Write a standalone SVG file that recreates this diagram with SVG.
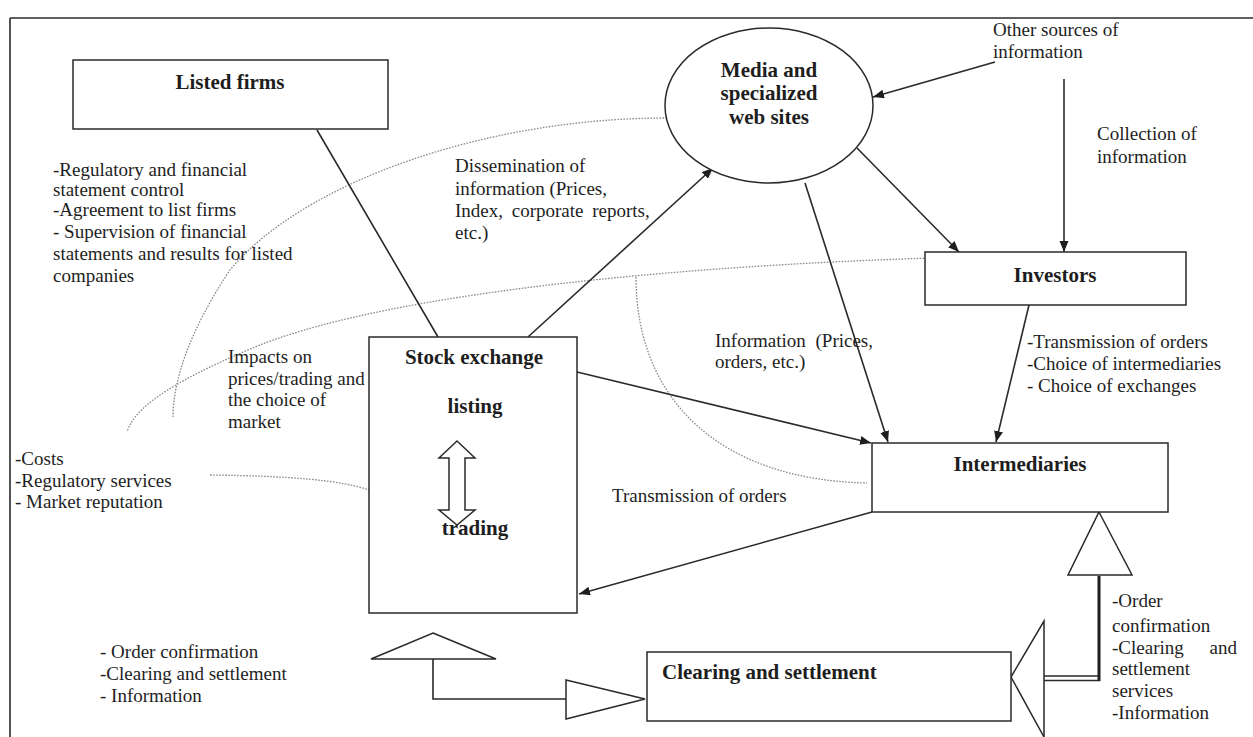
<svg xmlns="http://www.w3.org/2000/svg" width="1253" height="737" viewBox="0 0 1253 737">
<style>
text{font-family:"Liberation Serif","Times New Roman",serif;fill:#1e1e1e}
.t{font-size:19px}
.b{font-size:21px;font-weight:bold}
.box{fill:#fff;stroke:#2a2a2a;stroke-width:1.5}
.ln{fill:none;stroke:#2a2a2a;stroke-width:1.6}
.dot{fill:none;stroke:#8a8a8a;stroke-width:1.3;stroke-dasharray:1.6 1.4}
.hol{fill:#fff;stroke:#2a2a2a;stroke-width:1.5;stroke-linejoin:miter}
</style>
<defs>
<marker id="ah" markerUnits="userSpaceOnUse" markerWidth="12" markerHeight="10" refX="11" refY="4.5" orient="auto">
<path d="M0,0 L11,4.5 L0,9 z" fill="#1e1e1e"/>
</marker>
</defs>

<g id="frame">
<line x1="10" y1="18" x2="1253" y2="18" class="ln"/>
<line x1="10" y1="18" x2="10" y2="737" class="ln"/>
</g>

<g id="dotted-curves">
<path class="dot" d="M667,118 C480,118 300,185 230,270 C190,330 173,380 173,417"/>
<path class="dot" d="M933,258 C700,265 400,290 260,345 C180,378 135,405 127,432"/>
<path class="dot" d="M636,277 C636,400 720,480 867,483"/>
<path class="dot" d="M210,475 C290,476 340,480 369,490"/>
</g>

<g id="connectors">
<line class="ln" x1="317" y1="130" x2="438" y2="337"/>
<line class="ln" x1="528" y1="337" x2="713" y2="168" marker-end="url(#ah)"/>
<line class="ln" x1="995" y1="62" x2="873" y2="97" marker-end="url(#ah)"/>
<line class="ln" x1="857" y1="148" x2="959" y2="252" marker-end="url(#ah)"/>
<line class="ln" x1="1064" y1="79" x2="1064" y2="252" marker-end="url(#ah)"/>
<line class="ln" x1="805" y1="183" x2="888" y2="442" marker-end="url(#ah)"/>
<line class="ln" x1="1029" y1="305" x2="996" y2="442" marker-end="url(#ah)"/>
<line class="ln" x1="577" y1="372" x2="871" y2="443" marker-end="url(#ah)"/>
<line class="ln" x1="872" y1="512" x2="579" y2="594" marker-end="url(#ah)"/>
<polyline class="ln" points="433,659 433,699 566,699"/>
<polygon class="hol" points="433,633 496,659 371,659"/>
<polygon class="hol" points="566,680 645,699 566,719"/>
<line class="ln" x1="1044" y1="676" x2="1099" y2="676"/>
<line class="ln" x1="1044" y1="680.5" x2="1100" y2="680.5"/>
<line x1="1099" y1="576" x2="1099" y2="681" stroke="#1e1e1e" stroke-width="3"/>
<polygon class="hol" points="1011,677 1044,621 1044,737"/>
<polygon class="hol" points="1099,512 1132,575 1068,575"/>
</g>

<g id="listed-firms">
<rect class="box" x="73" y="60" width="315" height="69"/>
<text class="b" x="230" y="89" text-anchor="middle">Listed firms</text>
</g>

<g id="media">
<ellipse class="box" cx="769" cy="105.5" rx="104" ry="77.5"/>
<text class="b" x="769" y="77" text-anchor="middle">Media and</text>
<text class="b" x="769" y="100" text-anchor="middle">specialized</text>
<text class="b" x="769" y="124" text-anchor="middle">web sites</text>
</g>

<g id="investors">
<rect class="box" x="925" y="252" width="261" height="53"/>
<text class="b" x="1055" y="282" text-anchor="middle">Investors</text>
</g>

<g id="intermediaries">
<rect class="box" x="872" y="443" width="296" height="69"/>
<text class="b" x="1020" y="471" text-anchor="middle">Intermediaries</text>
</g>

<g id="stock-exchange">
<rect class="box" x="369" y="337" width="208" height="276"/>
<text class="b" x="474" y="364" text-anchor="middle">Stock exchange</text>
<text class="b" x="475" y="413" text-anchor="middle">listing</text>
<polygon class="hol" points="457,441 475,458 465,458 465,510 475,510 457,525 439,510 449,510 449,458 439,458"/>
<text class="b" x="475" y="535" text-anchor="middle">trading</text>
</g>

<g id="clearing">
<rect class="box" x="647" y="652" width="364" height="69"/>
<text class="b" x="662" y="679">Clearing and settlement</text>
</g>

<g id="labels">
<text class="t" x="53" y="176">-Regulatory and financial</text>
<text class="t" x="53" y="196">statement control</text>
<text class="t" x="53" y="216">-Agreement to list firms</text>
<text class="t" x="53" y="238">- Supervision of financial</text>
<text class="t" x="53" y="260">statements and results for  listed</text>
<text class="t" x="53" y="282">companies</text>

<text class="t" x="455" y="172">Dissemination of</text>
<text class="t" x="455" y="195">information (Prices,</text>
<text class="t" x="455" y="217" word-spacing="4">Index, corporate reports,</text>
<text class="t" x="455" y="239">etc.)</text>

<text class="t" x="993" y="36">Other sources of</text>
<text class="t" x="993" y="58">information</text>

<text class="t" x="1097" y="140">Collection of</text>
<text class="t" x="1097" y="163">information</text>

<text class="t" x="1027" y="348">-Transmission of orders</text>
<text class="t" x="1027" y="370">-Choice of intermediaries</text>
<text class="t" x="1027" y="392">- Choice of exchanges</text>

<text class="t" x="715" y="347" word-spacing="5">Information (Prices,</text>
<text class="t" x="715" y="368">orders, etc.)</text>

<text class="t" x="612" y="502">Transmission of orders</text>

<text class="t" x="228" y="363">Impacts on</text>
<text class="t" x="228" y="385">prices/trading and</text>
<text class="t" x="228" y="406">the choice of</text>
<text class="t" x="228" y="428">market</text>

<text class="t" x="15" y="465">-Costs</text>
<text class="t" x="15" y="487">-Regulatory services</text>
<text class="t" x="15" y="508">- Market reputation</text>

<text class="t" x="100" y="658">- Order confirmation</text>
<text class="t" x="100" y="680">-Clearing and settlement</text>
<text class="t" x="100" y="702">- Information</text>

<text class="t" x="1112" y="607">-Order</text>
<text class="t" x="1112" y="632">confirmation</text>
<text class="t" x="1112" y="654">-Clearing</text>
<text class="t" x="1237" y="654" text-anchor="end">and</text>
<text class="t" x="1112" y="675">settlement</text>
<text class="t" x="1112" y="697">services</text>
<text class="t" x="1112" y="719">-Information</text>
</g>
</svg>
